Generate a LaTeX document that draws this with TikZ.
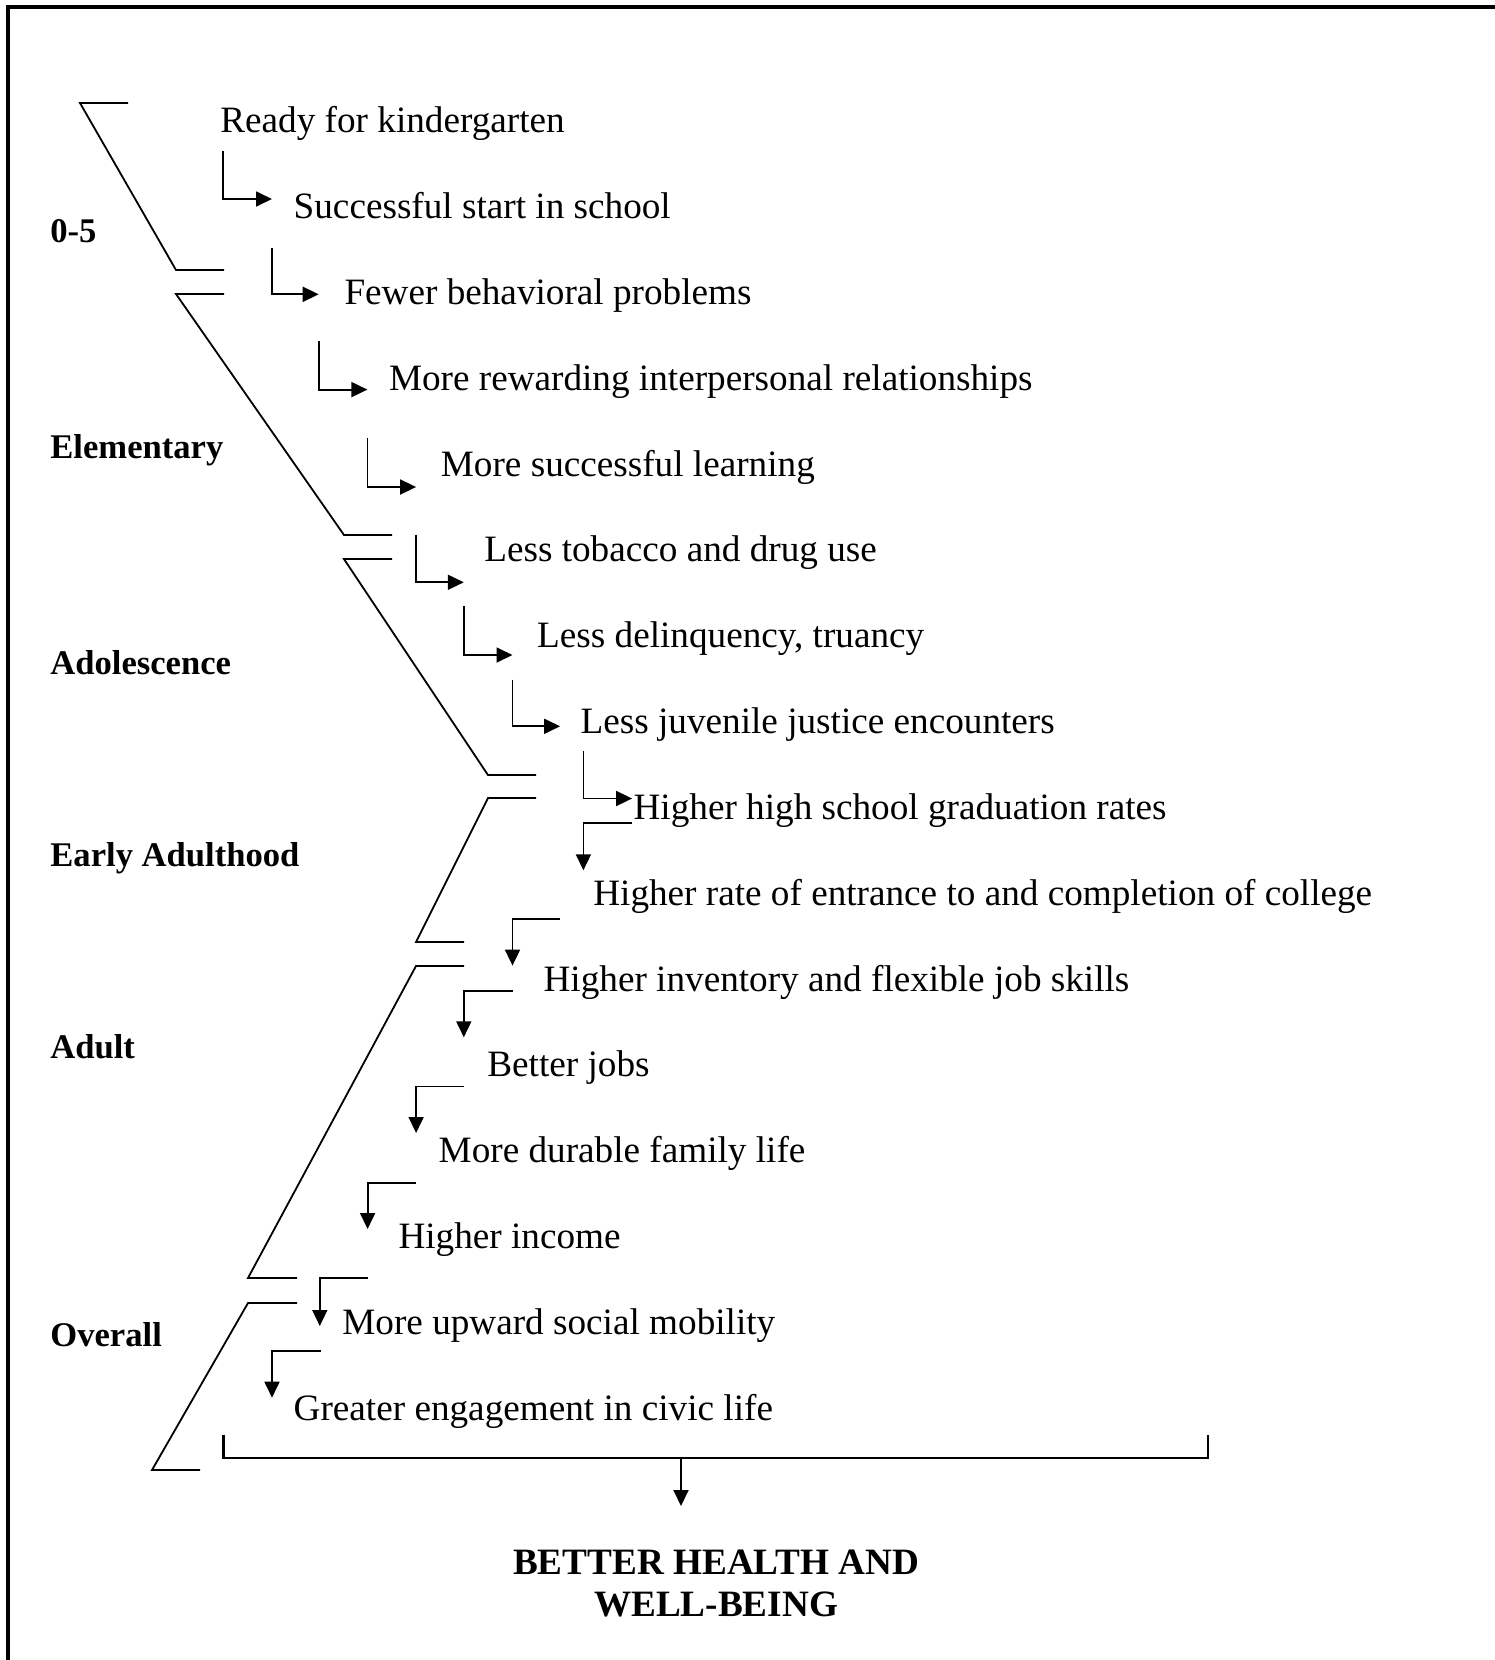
\documentclass[tikz,border=0pt]{standalone}
\usepackage{fontspec}
\setmainfont{Liberation Serif}
\usetikzlibrary{arrows.meta}

\begin{document}
\begin{tikzpicture}[x=0.5pt, y=-0.5pt,
    stage/.style={anchor=base west, inner sep=0pt, font=\bfseries\fontsize{17.3}{20}\selectfont},
    outcome/.style={anchor=base west, inner sep=0pt, font=\fontsize{18.6}{22}\selectfont},
    goal/.style={align=center, inner sep=0pt, font=\bfseries\fontsize{18.6}{21}\selectfont},
    phase/.style={line width=0.9pt},
    flow/.style={-{Triangle[length=8pt, width=7.5pt]}, line width=0.9pt}]
    \useasboundingbox (0,0) rectangle (1494,1660);
    \draw[line width=2pt] (8,7) rectangle (1530,1700);

    \node [stage] (infancy) at (50,242) {0-5};
    \node [stage] (elementary) at (50,458.8) {Elementary};
    \node [stage] (adolescence) at (50,674.8) {Adolescence};
    \node [stage] (earlyadult) at (50,866.5) {Early Adulthood};
    \node [stage] (adult) at (50,1058) {Adult};
    \node [stage] (overall) at (50,1346) {Overall};

    \draw[phase] (128,103) -- (80,103) -- (176,270) -- (224,270);
    \draw[phase] (224,294) -- (176,294) -- (344,535) -- (392,535);
    \draw[phase] (392,559) -- (344,559) -- (488,775) -- (536,775);
    \draw[phase] (536,798) -- (488,798) -- (416,942) -- (464,942);
    \draw[phase] (464,966) -- (416,966) -- (248,1278) -- (297,1278);
    \draw[phase] (297,1303) -- (248,1303) -- (152,1470) -- (200,1470);

    \node [outcome] (ready) at (220,132.7) {Ready for kindergarten};
    \node [outcome] (start) at (293.3,218.5) {Successful start in school};
    \node [outcome] (behavior) at (344.1,304.4) {Fewer behavioral problems};
    \node [outcome] (relations) at (388.6,390.2) {More rewarding interpersonal relationships};
    \node [outcome] (learning) at (440.5,476) {More successful learning};
    \node [outcome] (tobacco) at (483.9,561.9) {Less tobacco and drug use};
    \node [outcome] (truancy) at (536.8,647.7) {Less delinquency, truancy};
    \node [outcome] (justice) at (580.2,733.5) {Less juvenile justice encounters};
    \node [outcome] (graduation) at (633.2,819.4) {Higher high school graduation rates};
    \node [outcome] (college) at (592.9,905.2) {Higher rate of entrance to and completion of college};
    \node [outcome] (skills) at (543.2,991) {Higher inventory and flexible job skills};
    \node [outcome] (jobs) at (487,1076.9) {Better jobs};
    \node [outcome] (family) at (438.3,1162.7) {More durable family life};
    \node [outcome] (income) at (398.1,1248.5) {Higher income};
    \node [outcome] (mobility) at (342,1334.3) {More upward social mobility};
    \node [outcome] (civic) at (293.3,1420.2) {Greater engagement in civic life};
    \node [goal] (health) at (716,1583.7) {BETTER HEALTH AND\\WELL-BEING};

    \coordinate (ready-out) at (223,151);      \coordinate (start-in) at (272,199);
    \coordinate (start-out) at (272.1,247.8);  \coordinate (behavior-in) at (318.7,294.3);
    \coordinate (behavior-out) at (318.7,341); \coordinate (relations-in) at (367.4,389.6);
    \coordinate (relations-out) at (367.4,438.3); \coordinate (learning-in) at (416.1,487);
    \coordinate (learning-out) at (416.1,534.7); \coordinate (tobacco-in) at (463.8,582.3);
    \coordinate (tobacco-out) at (463.8,605.6); \coordinate (truancy-in) at (512.5,655);
    \coordinate (truancy-out) at (512.5,679.7); \coordinate (justice-in) at (560.1,726.3);
    \coordinate (justice-out) at (583.4,751.2); \coordinate (graduation-in) at (632.1,798.5);
    \coordinate (graduation-out) at (632.1,822.7); \coordinate (college-in) at (583.4,870.3);
    \coordinate (college-out) at (560.1,919);   \coordinate (skills-in) at (512.5,965.6);
    \coordinate (skills-out) at (512.5,991);    \coordinate (jobs-in) at (463.8,1037.3);
    \coordinate (jobs-out) at (463.8,1086.5);   \coordinate (family-in) at (416.1,1133);
    \coordinate (family-out) at (416.1,1182.7); \coordinate (income-in) at (367.6,1229);
    \coordinate (income-out) at (368,1278.3);   \coordinate (mobility-in) at (319.8,1326);
    \coordinate (mobility-out) at (320.5,1351); \coordinate (civic-in) at (272,1397.7);
    \coordinate (bracket) at (681,1458);        \coordinate (health-in) at (681,1506);

    \draw[flow] (ready-out) |- (start-in);
    \draw[flow] (start-out) |- (behavior-in);
    \draw[flow] (behavior-out) |- (relations-in);
    \draw[flow] (relations-out) |- (learning-in);
    \draw[flow] (learning-out) |- (tobacco-in);
    \draw[flow] (tobacco-out) |- (truancy-in);
    \draw[flow] (truancy-out) |- (justice-in);
    \draw[flow] (justice-out) |- (graduation-in);
    \draw[flow] (graduation-out) -| (college-in);
    \draw[flow] (college-out) -| (skills-in);
    \draw[flow] (skills-out) -| (jobs-in);
    \draw[flow] (jobs-out) -| (family-in);
    \draw[flow] (family-out) -| (income-in);
    \draw[flow] (income-out) -| (mobility-in);
    \draw[flow] (mobility-out) -| (civic-in);

    \draw[line width=1.1pt] (223.4,1434.6) |- (1208,1458) -- (1208,1434.6);
    \draw[flow] (bracket) -- (health-in);
\end{tikzpicture}
\end{document}
